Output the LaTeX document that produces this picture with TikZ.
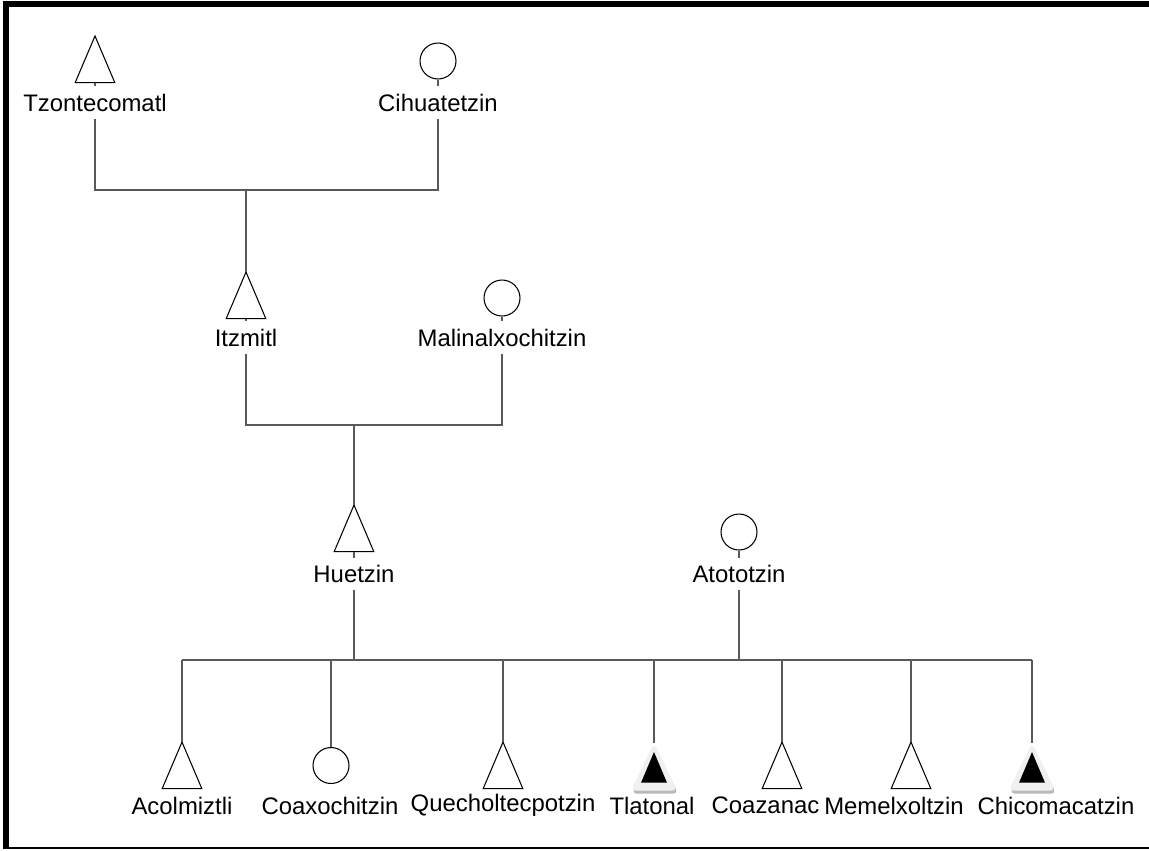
\documentclass[tikz,border=0pt]{standalone}
\usepackage{fontspec}
\setmainfont{Liberation Sans}
\tikzset{
  tribox/.style={rectangle, inner sep=0pt, minimum width=0.78cm, minimum height=0.92cm, anchor=north},
  deadbox/.style={rectangle, inner sep=0pt, minimum width=0.92cm, minimum height=0.94cm, anchor=north},
  female/.style={circle, draw=black, line width=0.6pt, fill=white, inner sep=0pt, minimum size=0.72cm},
  personlbl/.style={font=\fontsize{13.6}{16}\selectfont, inner xsep=1pt, inner ysep=0.15cm, text height=0.34cm, text depth=0pt},
  kidlbl/.style={font=\fontsize{13.6}{16}\selectfont, inner sep=0pt}
}
% triangle for a man, apex at #2
\newcommand{\male}[2]{\node[tribox] (#1) at (#2) {};
  \draw[black, line width=0.6pt, fill=white] (#1.north) -- (#1.south east) -- (#1.south west) -- cycle;}
% black triangle with a grey rim and shadow
\newcommand{\deadmale}[2]{\node[deadbox] (#1) at (#2) {};
  \fill[gray!55, rounded corners=0.1cm] ([shift={(0.02cm,-0.06cm)}]#1.north) -- ([shift={(0.02cm,-0.06cm)}]#1.south east) -- ([shift={(0.02cm,-0.06cm)}]#1.south west) -- cycle;
  \fill[gray!12, rounded corners=0.1cm] (#1.north) -- (#1.south east) -- (#1.south west) -- cycle;
  \fill[black] ([yshift=-0.18cm]#1.north) -- ([shift={(0.26cm,0.16cm)}]#1.south) -- ([shift={(-0.26cm,0.16cm)}]#1.south) -- cycle;}
\begin{document}
\begin{tikzpicture}[x=0.02cm,y=-0.02cm]
        \useasboundingbox (0,0) rectangle (1149,850);
        % frame
        \fill (3,1) rectangle (1149,7);
        \fill (3,1) rectangle (9,849);
        \draw[line width=0.8pt] (3,848) -- (1149,848);
        % first generation
        \male{tzon}{95,36}
        \node[female] (cihu) at (438,61) {};
        \node[personlbl] (tzonlbl) at (95,102.5) {Tzontecomatl};
        \node[personlbl] (cihulbl) at (438,102.5) {Cihuatetzin};
        % second generation
        \male{itz}{246,272}
        \node[female] (mali) at (502,298) {};
        \node[personlbl] (itzlbl) at (246,337.5) {Itzmitl};
        \node[personlbl] (malilbl) at (502,337.5) {Malinalxochitzin};
        % third generation
        \male{hue}{354,505}
        \node[female] (atot) at (739,532) {};
        \node[personlbl] (huelbl) at (354,574) {Huetzin};
        \node[personlbl] (atotlbl) at (739,574) {Atototzin};
        % children
        \male{acol}{182,742}
        \node[female] (coax) at (331,765.5) {};
        \male{quec}{503,742}
        \deadmale{tlat}{654,743}
        \male{coaz}{782,742}
        \male{meme}{911,742}
        \deadmale{chic}{1032,743}
        \begin{scope}[every node/.style={kidlbl}]
        \node (acollbl) at (182,805.5) {Acolmiztli};
        \node (coaxlbl) at (330,805.5) {Coaxochitzin};
        \node (queclbl) at (503,805.5) {Quecholtecpotzin};
        \node (tlatlbl) at (652,805.5) {Tlatonal};
        \node (coazlbl) at (765.5,805.5) {Coazanac};
        \node (memelbl) at (894,805.5) {Memelxoltzin};
        \node (chiclbl) at (1056,805.5) {Chicomacatzin};
        \end{scope}
        % junctions
        \coordinate (m1) at (246,190);
        \coordinate (m2) at (354,425);
        \coordinate (s1) at (182,660);
        \coordinate (s2) at (1032,660);
        \begin{scope}[every path/.style={draw=black!65,line width=0.6pt}]
        \path (tzon.south) edge (tzonlbl);
        \path (cihu) edge (cihulbl);
        \path (tzonlbl.south) |- (m1) -| (cihulbl.south);
        \path (m1) edge (itz.north);
        \path (itz.south) edge (itzlbl);
        \path (mali) edge (malilbl);
        \path (itzlbl.south) |- (m2) -| (malilbl.south);
        \path (m2) edge (hue.north);
        \path (hue.south) edge (huelbl);
        \path (atot) edge (atotlbl);
        \path (s1) -- (s2);
        \path (huelbl.south) -- (huelbl.south |- s1);
        \path (atotlbl.south) -- (atotlbl.south |- s1);
        \path (acol.north |- s1) -- (acol.north);
        \path (coax.north |- s1) -- (coax.north);
        \path (quec.north |- s1) -- (quec.north);
        \path (tlat.north |- s1) -- (tlat.north);
        \path (coaz.north |- s1) -- (coaz.north);
        \path (meme.north |- s1) -- (meme.north);
        \path (chic.north |- s1) -- (chic.north);
        \end{scope}
\end{tikzpicture}
\end{document}
